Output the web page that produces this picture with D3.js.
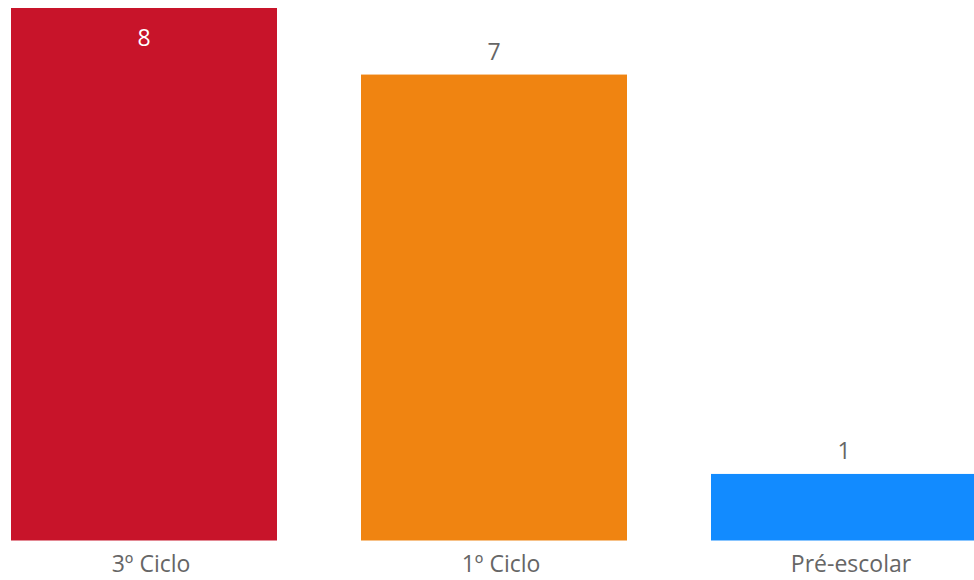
<!DOCTYPE html>
<html>
<head>
<meta charset="utf-8">
<script src="https://cdn.jsdelivr.net/npm/d3@7"></script>
<style>
  html, body { margin: 0; padding: 0; background: #fff; }
  svg { display: block; }
  text { font-family: "Open Sans", "Noto Sans", sans-serif; }
</style>
</head>
<body>
<svg id="chart" width="974" height="580"></svg>
<script>
const categories = ["3º Ciclo", "1º Ciclo", "Pré-escolar"];
const values = [8, 7, 1];
const colors = ["#C8142A", "#F08411", "#128BFF"];

const svg = d3.select("#chart");
const W = 974, H = 580;

const x = d3.scaleBand().domain(categories).range([11, 977]).paddingInner(0.24).paddingOuter(0);
const y = d3.scaleLinear().domain([0, 8]).range([540.5, 8]);

const data = categories.map((c, i) => ({ c, v: values[i], col: colors[i] }));

svg.append("g").selectAll("rect").data(data).join("rect")
  .attr("x", d => x(d.c))
  .attr("y", d => y(d.v))
  .attr("width", x.bandwidth())
  .attr("height", d => y(0) - y(d.v))
  .attr("fill", d => d.col);

svg.append("g").selectAll("text").data(data).join("text")
  .attr("x", d => x(d.c) + x.bandwidth() / 2)
  .attr("y", d => (y(d.v) - 38 < 0) ? y(d.v) + 38 : y(d.v) - 14.5)
  .attr("text-anchor", "middle")
  .attr("font-size", 23)
  .attr("fill", d => (y(d.v) - 38 < 0) ? "#ffffff" : "#666666")
  .text(d => d.v);

const xAxis = svg.append("g").attr("transform", `translate(7,${y(0)})`)
  .call(d3.axisBottom(x).tickSize(0).tickPadding(0));
xAxis.select(".domain").remove();
xAxis.selectAll("text")
  .attr("y", 31.5)
  .attr("dy", 0)
  .attr("font-size", 23)
  .attr("font-family", "'Open Sans', 'Noto Sans', sans-serif")
  .attr("fill", "#666666");
</script>
</body>
</html>
